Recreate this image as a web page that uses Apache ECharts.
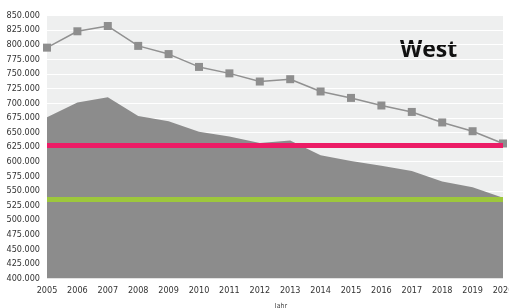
<!DOCTYPE html>
<html><head><meta charset="utf-8">
<script src="https://cdn.jsdelivr.net/npm/echarts@6/dist/echarts.min.js"></script>
<style>html,body{margin:0;padding:0;background:#fff}#c{width:509px;height:308px}</style>
</head><body><div id="c"></div>
<script>
const years = ['2005','2006','2007','2008','2009','2010','2011','2012','2013','2014','2015','2016','2017','2018','2019','2020'];
const lineValues = [795000, 823000, 832000, 798000, 784000, 762000, 751000, 737000, 741000, 720000, 709000, 696000, 685000, 667000, 652000, 631000];
const areaValues = [676000, 701000, 710000, 678000, 669000, 651000, 643000, 632000, 636000, 611000, 601000, 593000, 584000, 566000, 556000, 538000];
const pinkLevel = 628000;
const greenLevel = 535000;
const yMin = 400000, yMax = 850000, yStep = 25000;
const regionLabel = 'West';
const axisName = 'Jahr';

const chart = echarts.init(document.getElementById('c'), null, {renderer: 'canvas'});
const labelFont = "'Liberation Sans Narrow', 'DejaVu Sans Condensed', 'Liberation Sans', sans-serif";
chart.setOption({
  animation: false,
  backgroundColor: '#ffffff',
  grid: {left: 47, right: 6, top: 15.5, bottom: 29.5, show: true, backgroundColor: '#eeefef', borderWidth: 0,
    containLabel: false, outerBoundsMode: 'none'},
  xAxis: {
    type: 'category', data: years, boundaryGap: false,
    axisLine: {show: false}, axisTick: {show: false},
    axisLabel: {color: '#333', fontSize: 9, fontFamily: labelFont, margin: 8, interval: 0},
    splitLine: {show: false},
    name: axisName, nameLocation: 'middle', nameGap: 24,
    nameTextStyle: {color: '#444', fontSize: 7, fontFamily: labelFont, padding: [0, 0, 0, 12]}
  },
  yAxis: {
    type: 'value', min: yMin, max: yMax, interval: yStep,
    axisLine: {show: false}, axisTick: {show: false},
    axisLabel: {color: '#333', fontSize: 9, fontFamily: labelFont, margin: 7,
      formatter: v => (v / 1000) + '.000'},
    splitLine: {show: true, lineStyle: {color: '#ffffff', width: 1}}
  },
  series: [
    {
      type: 'line', data: areaValues, showSymbol: false, z: 1,
      lineStyle: {width: 0}, itemStyle: {color: '#8c8c8c'},
      areaStyle: {color: '#8c8c8c', opacity: 1, origin: 'start'},
      markLine: {
        silent: true, symbol: 'none', label: {show: false},
        data: [
          {yAxis: pinkLevel, lineStyle: {color: '#ec1c66', width: 5, type: 'solid'}},
          {yAxis: greenLevel, lineStyle: {color: '#9dc73c', width: 5, type: 'solid'}}
        ]
      }
    },
    {
      type: 'line', data: lineValues, z: 3,
      symbol: 'rect', symbolSize: 8,
      lineStyle: {color: '#919191', width: 1.5},
      itemStyle: {color: '#8e8e8e'}
    }
  ],
  graphic: [{
    type: 'text', left: 400, top: 39,
    style: {text: regionLabel, fill: '#111', font: "bold 23px 'Open Sans', 'Liberation Sans', sans-serif"}
  }]
});
</script></body></html>
